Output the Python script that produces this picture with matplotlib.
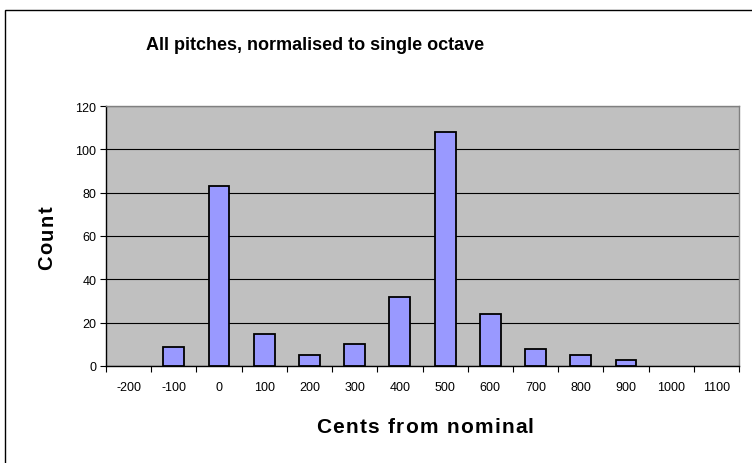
import matplotlib
matplotlib.use("Agg")
import matplotlib.pyplot as plt
from matplotlib.patches import Rectangle
import numpy as np

plt.rcParams['font.family'] = ['Liberation Sans', 'DejaVu Sans']

# Histogram of cent offsets
categories = ["-200", "-100", "0", "100", "200", "300", "400", "500",
              "600", "700", "800", "900", "1000", "1100"]
counts = [0, 9, 83, 15, 5, 10, 32, 108, 24, 8, 5, 3, 0, 0]
y_ticks = [0, 20, 40, 60, 80, 100, 120]

W, H = 752, 464
fig = plt.figure(figsize=(W / 100, H / 100), dpi=100)
fig.patch.set_facecolor("white")
renderer = fig.canvas.get_renderer()


def tracked_text(s, cx, cy, size, track, vertical=False):
    """Draw bold text centred at pixel (cx, cy) with extra letter spacing."""
    widths = []
    for ch in s:
        t = fig.text(0, 0, ch if ch != " " else "n", fontsize=size,
                     fontweight="bold")
        w = t.get_window_extent(renderer).width
        if ch == " ":
            w *= 0.5
        widths.append(w)
        t.remove()
    total = sum(widths) + track * (len(s) - 1)
    pos = -total / 2
    for ch, w in zip(s, widths):
        mid = pos + w / 2
        if vertical:
            fig.text(cx / W, 1 - (cy - mid) / H, ch, fontsize=size,
                     fontweight="bold", rotation=90, ha="center", va="center")
        else:
            fig.text((cx + mid) / W, 1 - cy / H, ch, fontsize=size,
                     fontweight="bold", ha="center", va="baseline")
        pos += w + track


# Chart frame (runs off the right and bottom edges)
fig.patches.append(Rectangle((5 / W, -0.1), 1.2, 1 - 11 / H + 0.1,
                             transform=fig.transFigure, fill=False,
                             edgecolor="black", linewidth=1.0))

left, right, top, bottom = 106, 739, 107, 367
ax = fig.add_axes([left / W, 1 - bottom / H, (right - left) / W, (bottom - top) / H])
ax.set_facecolor("#C0C0C0")

x = np.arange(len(categories))
edge_w = [1.3 if c > 0 else 0 for c in counts]
ax.bar(x, counts, width=0.46, color="#9999FF", edgecolor="black",
       linewidth=edge_w, zorder=3)

ax.set_xlim(-0.5, len(categories) - 0.5)
ax.set_ylim(0, 120)
ax.set_yticks(y_ticks)
ax.set_yticklabels([str(v) for v in y_ticks], fontsize=9)
ax.yaxis.grid(True, color="black", linewidth=0.8, zorder=1)
ax.set_axisbelow(True)

ax.set_xticks(x)
ax.set_xticklabels(categories, fontsize=9)
ax.set_xticks(np.arange(-0.5, len(categories), 1.0), minor=True)
ax.tick_params(axis="x", which="major", length=0, pad=11)
ax.tick_params(axis="x", which="minor", length=4, width=0.8, direction="out")
ax.tick_params(axis="y", length=4, width=0.8, direction="out", pad=3)

for side in ("top", "right"):
    ax.spines[side].set_color("#808080")
    ax.spines[side].set_linewidth(1.0)
for side in ("left", "bottom"):
    ax.spines[side].set_color("black")
    ax.spines[side].set_linewidth(1.0)

fig.text(315 / W, 1 - 45 / H, "All pitches, normalised to single octave",
         ha="center", va="center", fontsize=13, fontweight="bold")
tracked_text("Count", 47, 238, 14.5, 1.5, vertical=True)
tracked_text("Cents from nominal", 425, 433, 15, 1.2)

fig.savefig("out.png", dpi=100)
